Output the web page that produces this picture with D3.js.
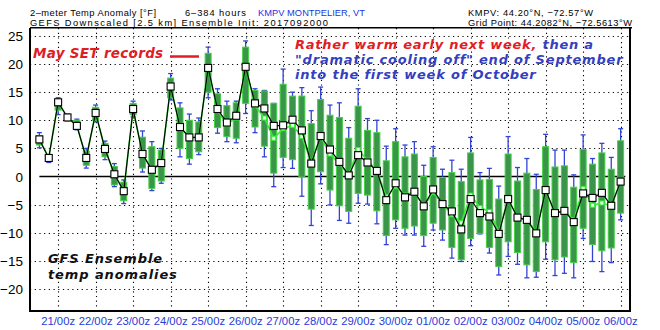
<!DOCTYPE html>
<html><head><meta charset="utf-8">
<script src="https://cdn.jsdelivr.net/npm/d3@7"></script>
<style>
html,body{margin:0;padding:0;background:#fff;}
svg{display:block;}
</style></head>
<body>
<script>
// ---- data ----
const forecastHours = d3.range(12, 385, 6); // 20/12z .. 06/00z
const meanVals = [6.6,3.3,13.2,10.5,9.0,3.3,11.3,4.9,0.4,-2.6,12.0,4.0,1.2,2.4,16.0,8.8,6.95,6.95,19.3,12.0,9.6,10.8,19.5,13.0,12.1,9.0,9.1,10.1,8.2,2.3,7.2,4.8,2.6,0.2,3.8,2.5,1.0,-4.2,-1.2,-3.7,-2.7,-5.3,-2.3,-4.9,-6.2,-9.4,-4.0,-6.5,-7.1,-10.2,-4.0,-7.3,-7.7,-10.1,-2.4,-6.5,-6.1,-8.1,-3.0,-3.8,-2.9,-5.2,-0.9];
const medianVals = [6.6,3.3,13.2,10.5,9.0,3.3,11.3,4.9,0.4,-2.6,12.0,4.0,1.2,2.4,16.0,8.8,6.95,6.95,19.3,11.7,9.3,10.4,19.5,12.6,10.4,6.8,8.5,9.1,7.1,2.6,7.1,4.0,2.3,0.3,4.8,2.9,1.0,-3.6,-1.8,-3.3,-2.7,-5.3,-2.8,-4.9,-6.8,-8.2,-3.3,-5.5,-6.2,-9.8,-4.0,-7.3,-7.7,-9.8,-2.5,-6.5,-6.1,-7.7,-2.1,-5.1,-4.7,-5.2,-0.9];
const whiskHi = [7.8,3.9,14.0,11.1,10.2,5.0,12.7,6.3,2.3,-0.6,13.4,8.1,6.2,5.0,18.3,13.1,11.1,10.4,23.0,15.6,13.4,13.4,24.1,15.6,15.3,13.0,19.1,15.0,15.8,11.7,15.9,12.7,13.1,8.7,15.6,10.3,10.0,5.4,8.5,5.6,6.2,2.0,5.3,1.3,2.9,1.3,6.95,0.7,1.45,-1.7,7.1,1.6,3.2,0.4,7.5,4.7,4.7,0.3,7.4,3.2,5.9,3.4,8.5];
const whiskLo = [5.1,2.5,11.0,9.9,8.3,1.5,9.7,3.0,-1.8,-4.8,10.6,0.8,-2.5,-1.2,13.6,3.5,2.2,3.9,14.0,7.7,6.2,6.0,11.2,7.8,3.5,-1.8,1.6,1.45,-3.5,-8.7,-1.3,-5.05,-7.8,-8.3,-4.75,-4.9,-8.4,-12.1,-9.2,-10.4,-10.4,-12.4,-9.5,-11.3,-14.5,-15.1,-12.3,-10.2,-13.6,-17.5,-14.2,-15.6,-18.0,-17.9,-14.7,-17.6,-17.2,-18.0,-11.0,-15.1,-16.9,-15.3,-7.7];
const boxHi = [7.3,3.6,13.7,10.9,10.0,4.5,12.3,5.9,1.8,-1.0,13.0,7.0,5.3,4.7,17.5,12.2,10.0,9.7,21.9,14.7,12.6,13.1,23.0,15.3,15.2,13.0,16.4,14.3,14.3,9.4,13.7,10.9,10.5,6.8,12.5,8.2,7.8,2.8,6.2,3.5,4.0,0.0,3.4,-0.15,0.7,-0.9,4.2,-0.6,-0.5,-4.0,4.0,-0.8,0.6,-2.3,5.3,1.7,1.9,-1.9,4.8,2.2,4.2,1.3,6.35];
const boxLo = [5.6,2.8,11.8,10.1,8.6,2.0,10.0,3.5,-1.5,-4.3,11.0,1.5,-2.1,-0.8,14.0,5.0,3.2,4.4,15.0,8.7,7.1,6.8,13.0,8.8,5.4,0.6,3.4,3.0,-0.1,-5.8,0.85,-2.4,-5.2,-6.2,-3.0,-3.3,-6.1,-10.5,-7.7,-9.2,-8.8,-10.5,-8.3,-9.5,-12.6,-14.8,-11.0,-10.1,-12.6,-16.0,-11.6,-13.5,-15.7,-16.9,-11.6,-14.8,-14.3,-15.3,-9.2,-12.1,-13.2,-12.7,-6.5];
const yTicks = [25,20,15,10,5,0,-5,-10,-15,-20];
const dayHours = [24,48,72,96,120,144,168,192,216,240,264,288,312,336,360,384];
const dayLabels = ["21/00z","22/00z","23/00z","24/00z","25/00z","26/00z","27/00z","28/00z","29/00z","30/00z","01/00z","02/00z","03/00z","04/00z","05/00z","06/00z"];

// ---- chart ----
const W = 660, H = 330;
const L = 30, R = 630, T = 28, B = 311;
const svg = d3.select("body").append("svg").attr("width", W).attr("height", H)
  .style("background", "#fff");
const x = d3.scaleLinear().domain([6, 390]).range([L, R]);
const y = d3.scaleLinear().domain([-23.9, 26.4]).range([B, T]);

const data = forecastHours.map((h, i) => ({h, mean: meanVals[i], med: medianVals[i],
  wh: whiskHi[i], wl: whiskLo[i], bh: boxHi[i], bl: boxLo[i]}));

// header
const hdr = svg.append("g").attr("font-family", "Liberation Sans, Arial, sans-serif").attr("font-size", 9.3);
function hText(xp, yp, w, txt, col) {
  hdr.append("text").attr("x", xp).attr("y", yp).attr("fill", col)
    .attr("textLength", w).attr("lengthAdjust", "spacing").text(txt);
}
hText(30, 15.5, 126, "2\u2013meter Temp Anomaly [\u00B0F]", "#000");
hText(185, 15.5, 61, "6\u2013384 hours", "#000");
hText(258, 15.5, 107, "KMPV MONTPELIER, VT", "#2233dd");
hText(468, 15.5, 125, "KMPV: 44.20\u00B0N, \u221272.57\u00B0W", "#000");
hText(30, 26.2, 298, "GEFS Downscaled [2.5 km] Ensemble Init: 2017092000", "#000");
hText(468, 26.2, 164, "Grid Point: 44.2082\u00B0N, \u221272.5613\u00B0W", "#000");

// grid
const grid = svg.append("g").attr("stroke", "#000").attr("stroke-width", 1.1).attr("stroke-dasharray", "1.2,3.5");
grid.selectAll("line.h").data(yTicks.filter(v => v !== 0)).join("line")
  .attr("x1", L).attr("x2", R).attr("y1", d => Math.round(y(d)) + 0.5).attr("y2", d => Math.round(y(d)) + 0.5);
grid.selectAll("line.v").data(dayHours).join("line")
  .attr("y1", T).attr("y2", B).attr("x1", d => Math.round(x(d)) + 0.5).attr("x2", d => Math.round(x(d)) + 0.5);

// zero line
svg.append("line").attr("x1", x(12)).attr("x2", x(387)).attr("y1", y(0)).attr("y2", y(0))
  .attr("stroke", "#000").attr("stroke-width", 1.5);

// whiskers
const wk = svg.append("g").attr("stroke", "#3343d6").attr("stroke-width", 1.3);
wk.selectAll("line.s").data(data).join("line")
  .attr("x1", d => x(d.h)).attr("x2", d => x(d.h)).attr("y1", d => y(d.wh)).attr("y2", d => y(d.wl));
wk.selectAll("line.t").data(data).join("line")
  .attr("x1", d => x(d.h) - 2.5).attr("x2", d => x(d.h) + 2.5).attr("y1", d => y(d.wh)).attr("y2", d => y(d.wh));
wk.selectAll("line.b").data(data).join("line")
  .attr("x1", d => x(d.h) - 2.5).attr("x2", d => x(d.h) + 2.5).attr("y1", d => y(d.wl)).attr("y2", d => y(d.wl));

// boxes
svg.append("g").selectAll("rect").data(data).join("rect")
  .attr("x", d => x(d.h) - 3).attr("width", 6)
  .attr("y", d => y(d.bh)).attr("height", d => y(d.bl) - y(d.bh))
  .attr("fill", "#3a954a").attr("stroke", "#46d046").attr("stroke-width", 1);

// green (median) line
svg.append("path").datum(data)
  .attr("d", d3.line().x(d => x(d.h)).y(d => y(d.med)))
  .attr("fill", "none").attr("stroke", "#33ee33").attr("stroke-width", 1.6);
svg.append("g").selectAll("rect").data(data).join("rect")
  .attr("x", d => x(d.h) - 2).attr("y", d => y(d.med) - 2).attr("width", 4).attr("height", 4)
  .attr("fill", "#eaffea").attr("stroke", "#33ee33").attr("stroke-width", 1);

// mean line
svg.append("path").datum(data)
  .attr("d", d3.line().x(d => x(d.h)).y(d => y(d.mean)))
  .attr("fill", "none").attr("stroke", "#000").attr("stroke-width", 1.2);
svg.append("g").selectAll("rect").data(data).join("rect")
  .attr("x", d => x(d.h) - 3.5).attr("y", d => y(d.mean) - 3.5).attr("width", 7).attr("height", 7)
  .attr("fill", "#fff").attr("stroke", "#000").attr("stroke-width", 1.1);

// frame
const fr = svg.append("g").attr("stroke", "#000").attr("fill", "none");
fr.append("line").attr("x1", L).attr("x2", R + 2).attr("y1", T - 0.3).attr("y2", T - 0.3).attr("stroke-width", 1.5);
fr.append("line").attr("x1", L).attr("x2", L).attr("y1", T).attr("y2", B + 1).attr("stroke-width", 2);
fr.append("line").attr("x1", R).attr("x2", R).attr("y1", T).attr("y2", B + 1).attr("stroke-width", 2);
fr.append("line").attr("x1", L - 1).attr("x2", R + 1).attr("y1", B).attr("y2", B).attr("stroke-width", 2);

// y axis labels
svg.append("g").attr("font-family", "Liberation Sans, Arial, sans-serif").attr("font-size", 13.5)
  .selectAll("text").data(yTicks).join("text")
  .attr("x", 23).attr("y", d => y(d) + 5).attr("text-anchor", "end").attr("fill", "#000")
  .text(d => d < 0 ? "\u2212" + Math.abs(d) : d);

// x axis labels
svg.append("g").attr("font-family", "Liberation Sans, Arial, sans-serif").attr("font-size", 11.3)
  .selectAll("text").data(dayHours).join("text")
  .attr("x", d => x(d)).attr("y", 325).attr("text-anchor", "middle").attr("fill", "#2a3ad8")
  .text((d, i) => dayLabels[i]);

// annotations
const ann = svg.append("g").attr("font-family", "DejaVu Sans, Verdana, sans-serif")
  .attr("font-weight", "bold").attr("font-style", "italic");
ann.append("text").attr("x", 33).attr("y", 58).attr("font-size", 13.5).attr("letter-spacing", 0.3)
  .attr("fill", "#e01d25").text("May SET records");
svg.append("line").attr("x1", 170).attr("x2", 199).attr("y1", 56.5).attr("y2", 56.5).attr("stroke", "#e01d25").attr("stroke-width", 2.5);
const a1 = ann.append("text").attr("x", 295).attr("y", 49).attr("font-size", 13).attr("letter-spacing", 0.75);
a1.append("tspan").attr("fill", "#e01d25").text("Rather warm early next week,");
a1.append("tspan").attr("fill", "#3440c0").text(" then a");
ann.append("text").attr("x", 295).attr("y", 64).attr("font-size", 13).attr("letter-spacing", 0.8)
  .attr("fill", "#3440c0").text("\"dramatic cooling off\" end of September");
ann.append("text").attr("x", 295).attr("y", 79).attr("font-size", 13).attr("letter-spacing", 0.8)
  .attr("fill", "#3440c0").text("into the first week of October");
ann.append("text").attr("x", 48).attr("y", 263).attr("font-size", 13).attr("letter-spacing", 0.9)
  .attr("fill", "#111").text("GFS Ensemble");
ann.append("text").attr("x", 48).attr("y", 279).attr("font-size", 13).attr("letter-spacing", 0.9)
  .attr("fill", "#111").text("temp anomalies");
</script>
</body></html>
